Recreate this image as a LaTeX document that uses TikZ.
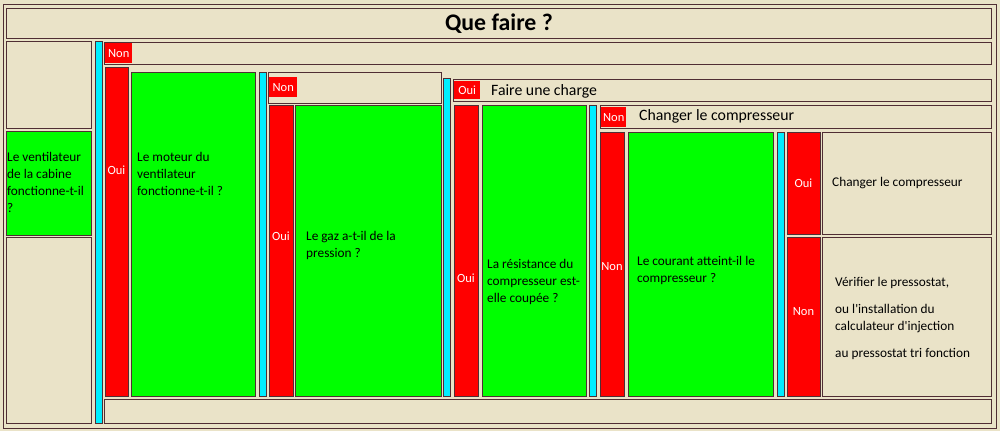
\documentclass[tikz,border=0pt]{standalone}
\usepackage{fontspec}
\newfontfamily\cellfont{Carlito}
\definecolor{paper}{RGB}{234,227,200}
\definecolor{cellline}{RGB}{80,46,52}
\definecolor{okgreen}{RGB}{0,255,0}
\definecolor{nored}{RGB}{255,0,0}
\definecolor{linkcyan}{RGB}{0,238,255}

\begin{document}
\begin{tikzpicture}[x=1pt,y=-1pt,
   cell/.style={draw=cellline,line width=0.9pt,inner sep=0pt,anchor=north west},
   beigecell/.style={cell,fill=paper},
   greencell/.style={cell,fill=okgreen},
   redcell/.style={cell,fill=nored},
   cyancell/.style={cell,fill=linkcyan,minimum width=7pt},
   redbox/.style={fill=nored,inner sep=0pt,anchor=north west,text=white,font=\cellfont\fontsize{12.5}{14}\selectfont},
   qtext/.style={anchor=north west,inner sep=0pt,align=left,font=\cellfont\fontsize{13.3}{17}\selectfont},
   anstext/.style={inner sep=0pt,text=white,font=\cellfont\fontsize{12.5}{14}\selectfont},
   bigtext/.style={anchor=west,inner sep=0pt,font=\cellfont\fontsize{15.8}{18}\selectfont}]
   \path[fill=paper] (0,0) rectangle (1000,431);
   \node[draw=cellline,line width=1pt,inner sep=0pt,anchor=north west,
      minimum width=993pt,minimum height=424pt] (frame) at (3,3.5) {};
   \node[beigecell,minimum width=985pt,minimum height=30pt,
      font=\cellfont\bfseries\fontsize{23.8}{26}\selectfont] (title) at (6,8) {Que faire ?};
   % left column
   \node[beigecell,minimum width=85pt,minimum height=87pt] (lefttop) at (6,41) {};
   \node[greencell,minimum width=85pt,minimum height=104pt] (q1) at (6,131) {};
   \node[beigecell,minimum width=85pt,minimum height=186pt] (leftbot) at (6,237) {};
   \node[cyancell,minimum height=382pt] (c1) at (95,41) {};
   % ventilateur
   \node[beigecell,minimum width=887pt,minimum height=22pt] (row1) at (104,42) {};
   \node[redbox,minimum width=27pt,minimum height=20pt] (n1) at (105,43) {Non};
   \node[redcell,minimum width=23pt,minimum height=329pt] (y1) at (105,67) {};
   \node[greencell,minimum width=124pt,minimum height=324pt] (q2) at (131,72) {};
   \node[cyancell,minimum height=324pt] (c2) at (259,72) {};
   % moteur
   \node[beigecell,minimum width=173pt,minimum height=31pt] (row2) at (268,72) {};
   \node[redbox,minimum width=28pt,minimum height=20pt] (n2) at (269,77) {Non};
   \node[redcell,minimum width=24pt,minimum height=291pt] (y2) at (269,105) {};
   \node[greencell,minimum width=146pt,minimum height=291pt] (q3) at (295,105) {};
   \node[cyancell,minimum height=318pt] (c3) at (443,78) {};
   % gaz
   \node[beigecell,minimum width=538pt,minimum height=22pt] (row3) at (453,79) {};
   \node[redbox,minimum width=26pt,minimum height=18pt] (y3) at (454,81) {Oui};
   \node[bigtext] (a3) at (491,91) {Faire une charge};
   \node[redcell,minimum width=24pt,minimum height=291pt] (y4) at (454,105) {};
   \node[greencell,minimum width=104pt,minimum height=291pt] (q4) at (482,105) {};
   \node[cyancell,minimum height=291pt] (c4) at (589,105) {};
   % resistance
   \node[beigecell,minimum width=391pt,minimum height=23pt] (row4) at (600,105) {};
   \node[redbox,minimum width=25pt,minimum height=20pt] (n4) at (601,107) {Non};
   \node[bigtext] (a4) at (639,116) {Changer le compresseur};
   \node[redcell,minimum width=24pt,minimum height=264pt] (n5) at (600,132) {};
   \node[greencell,minimum width=145pt,minimum height=264pt] (q5) at (628,132) {};
   \node[cyancell,minimum height=264pt] (c5) at (777,132) {};
   % courant
   \node[redcell,minimum width=33pt,minimum height=102pt] (y6) at (787,132) {};
   \node[beigecell,minimum width=169pt,minimum height=102pt] (a6) at (822,132) {};
   \node[redcell,minimum width=33pt,minimum height=159pt] (n6) at (787,237) {};
   \node[beigecell,minimum width=169pt,minimum height=159pt] (a7) at (822,237) {};
   \node[beigecell,minimum width=887pt,minimum height=24pt] (rowend) at (104,399) {};
   % texts
   \node[qtext] (t1) at (7,152) {Le ventilateur\\de la cabine\\fonctionne-t-il\\?};
   \node[qtext] (t2) at (137,152) {Le moteur du\\ventilateur\\fonctionne-t-il ?};
   \node[qtext] (t3) at (306,231) {Le gaz a-t-il de la\\pression ?};
   \node[qtext] (t4) at (487,259) {La résistance du\\compresseur est-\\elle coupée ?};
   \node[qtext] (t5) at (637,256) {Le courant atteint-il le\\compresseur ?};
   \node[qtext,anchor=west] (t6) at (832,183) {Changer le compresseur};
   \node[qtext] (t7) at (835,277) {Vérifier le pressostat,\\[10pt]ou l'installation du\\calculateur d'injection\\[10pt]au pressostat tri fonction};
   \node[anstext] (l1) at (116.5,170) {Oui};
   \node[anstext] (l2) at (281,236) {Oui};
   \node[anstext] (l4) at (466,278) {Oui};
   \node[anstext] (l5) at (612,267) {Non};
   \node[anstext] (l6) at (803.5,183) {Oui};
   \node[anstext] (l7) at (803.5,312) {Non};
\end{tikzpicture}
\end{document}
